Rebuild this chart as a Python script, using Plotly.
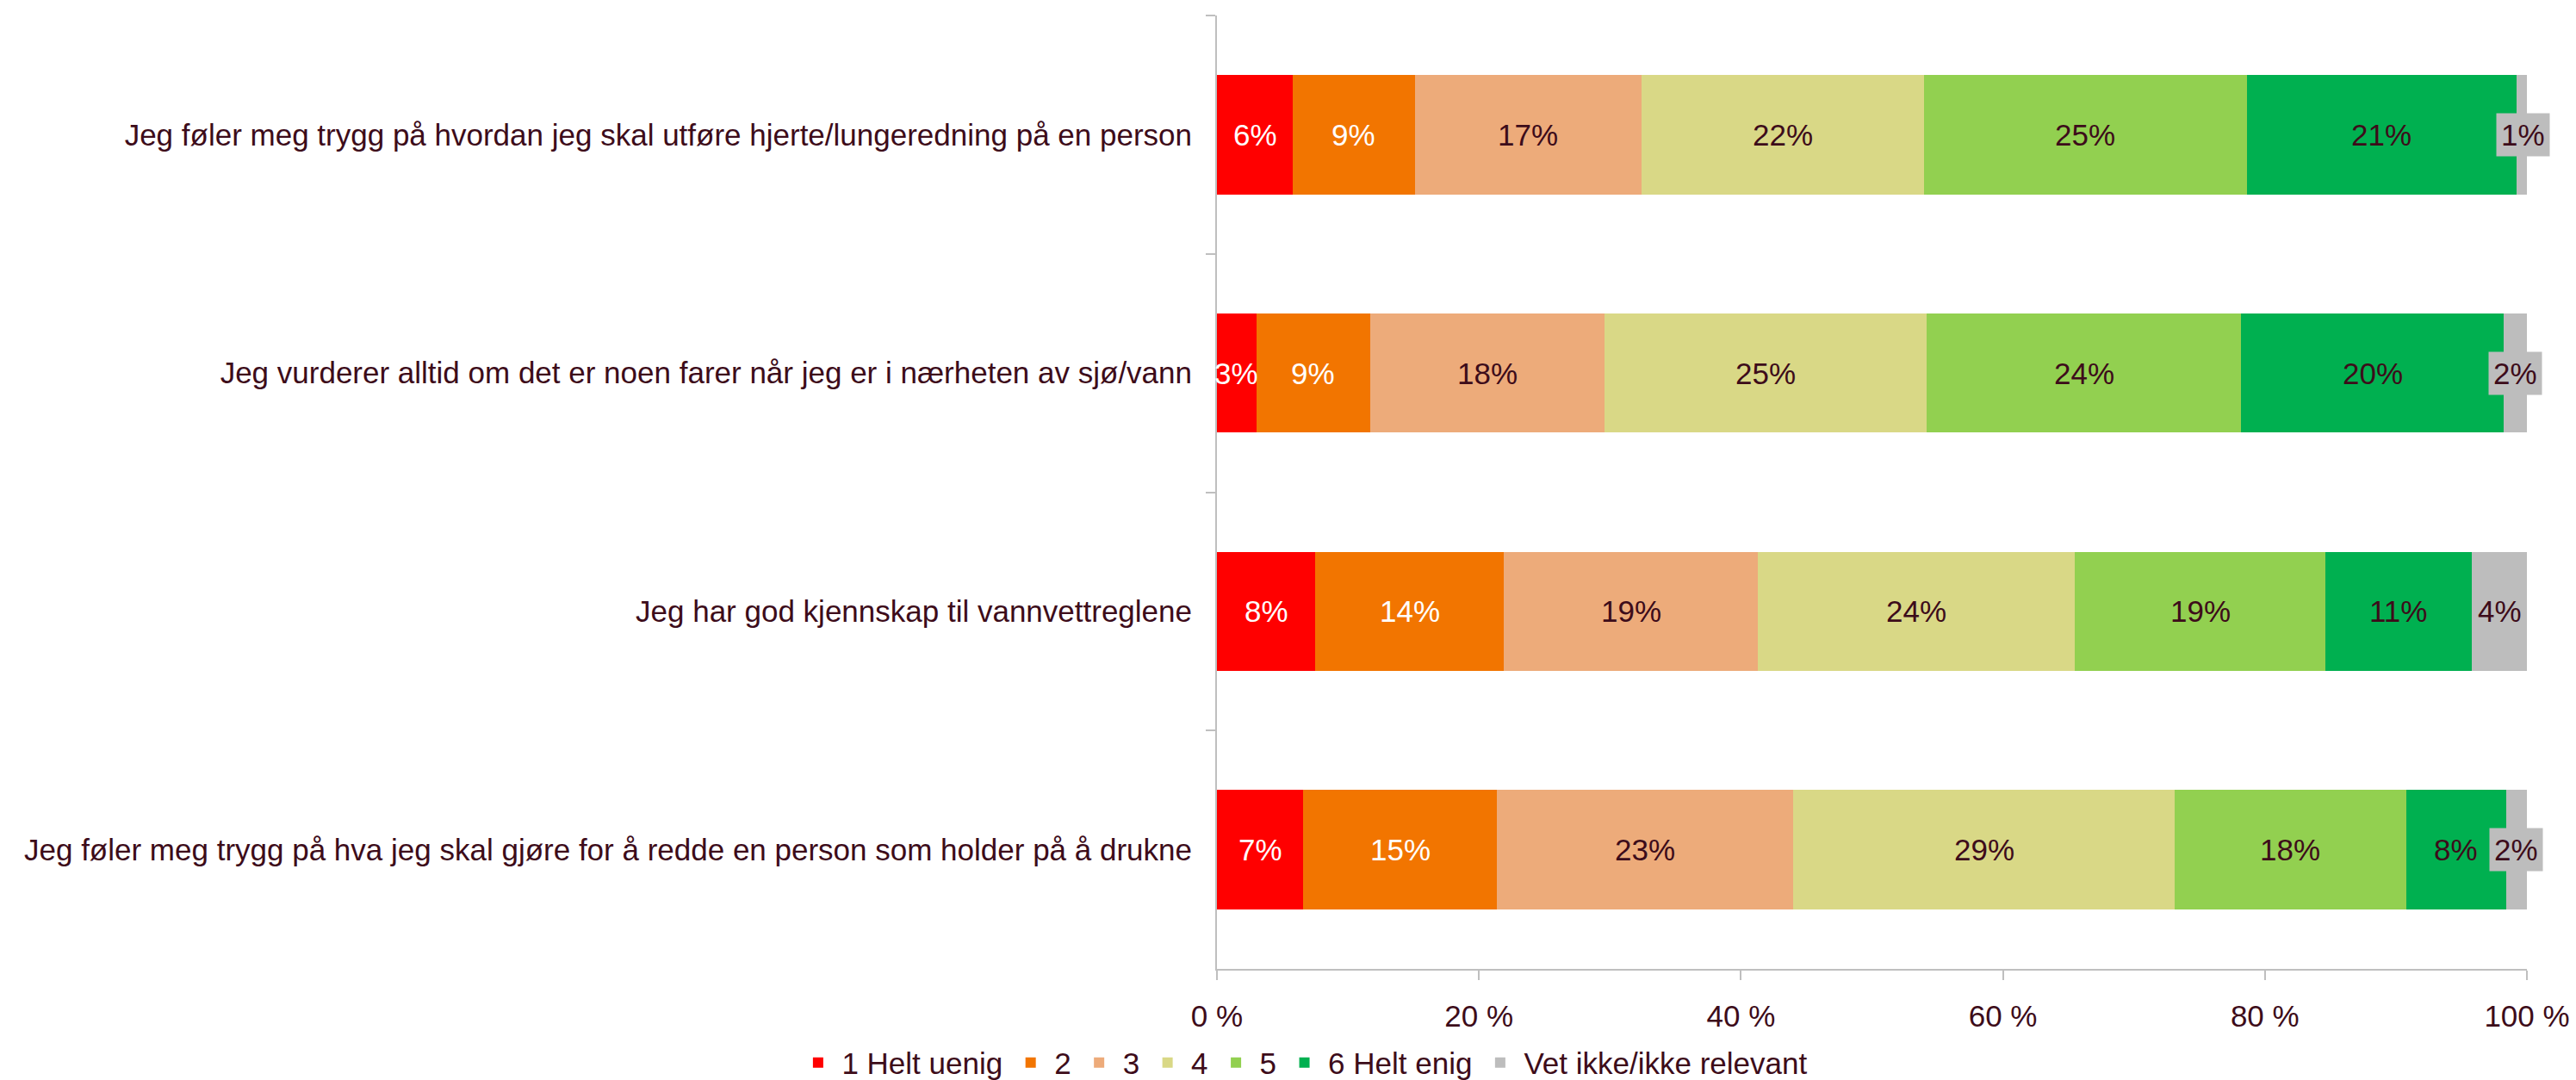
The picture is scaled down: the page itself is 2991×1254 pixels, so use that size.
import plotly.graph_objects as go

categories = [
    "Jeg føler meg trygg på hvordan jeg skal utføre hjerte/lungeredning på en person",
    "Jeg vurderer alltid om det er noen farer når jeg er i nærheten av sjø/vann",
    "Jeg har god kjennskap til vannvettreglene",
    "Jeg føler meg trygg på hva jeg skal gjøre for å redde en person som holder på å drukne",
]

series_names = ["1 Helt uenig", "2", "3", "4", "5", "6 Helt enig", "Vet ikke/ikke relevant"]

s1 = [5.8, 3.0, 7.5, 6.6]
s2 = [9.3, 8.7, 14.4, 14.8]
s3 = [17.3, 17.9, 19.4, 22.6]
s4 = [21.6, 24.6, 24.2, 29.1]
s5 = [24.6, 24.0, 19.1, 17.7]
s6 = [20.6, 20.0, 11.2, 7.6]
s7 = [1.0, 1.8, 4.2, 1.6]
series_values = [s1, s2, s3, s4, s5, s6, s7]

x_tickvals = [0, 20, 40, 60, 80, 100]
x_ticktext = ["0 %", "20 %", "40 %", "60 %", "80 %", "100 %"]

colors = ["#FF0000", "#F27500", "#EDAB7A", "#D9D886", "#92D050", "#00B050", "#BDBDBD"]
label_colors = ["#FFFFFF", "#FFFFFF", "#3D0C1A", "#3D0C1A", "#3D0C1A", "#3D0C1A", "#3D0C1A"]
TEXT = "#3D0C1A"
FONT = "Liberation Sans"
AXIS = "#BFBFBF"
FS = 35

fig = go.Figure()
for name, vals, col in zip(series_names, series_values, colors):
    fig.add_trace(go.Bar(
        y=categories, x=vals, name=name, orientation="h",
        marker=dict(color=col, line=dict(width=0)),
        hoverinfo="skip",
    ))

annotations = []
cum = [0.0] * len(categories)
for si, vals in enumerate(series_values):
    for ci, v in enumerate(vals):
        center = cum[ci] + v / 2
        ann = dict(
            x=center, y=categories[ci], xref="x", yref="y",
            text=f"{int(v + 0.5)}%", showarrow=False,
            font=dict(family=FONT, size=FS, color=label_colors[si]),
        )
        if si == len(series_values) - 1:
            ann.update(bgcolor=colors[si], borderpad=5)
        annotations.append(ann)
        cum[ci] += v

fig.update_layout(
    barmode="stack",
    bargap=0.5,
    width=2991, height=1270,
    margin=dict(l=1405, r=65, t=10, b=153, autoexpand=False),
    paper_bgcolor="white", plot_bgcolor="white",
    font=dict(family=FONT, size=FS, color=TEXT),
    showlegend=True,
    legend=dict(
        orientation="h", x=0.066, xanchor="center", y=-0.0985, yanchor="middle",
        font=dict(family=FONT, size=FS, color=TEXT),
        traceorder="normal", itemwidth=45,
    ),
    annotations=annotations,
)

fig.update_xaxes(
    range=[0, 100], tickvals=x_tickvals, ticktext=x_ticktext,
    showgrid=False, zeroline=False, automargin=False,
    showline=True, linecolor=AXIS, linewidth=2,
    ticks="outside", ticklen=11, tickcolor=AXIS, tickwidth=2,
    ticklabelstandoff=12,
    tickfont=dict(family=FONT, size=FS, color=TEXT),
)
fig.update_yaxes(
    autorange="reversed", showgrid=False, zeroline=False, automargin=False,
    showline=True, linecolor=AXIS, linewidth=2,
    ticks="outside", ticklen=11, tickcolor=AXIS, tickwidth=2,
    tickson="boundaries", ticklabelstandoff=20,
    tickfont=dict(family=FONT, size=FS, color=TEXT),
)

fig.write_html("out.html")
